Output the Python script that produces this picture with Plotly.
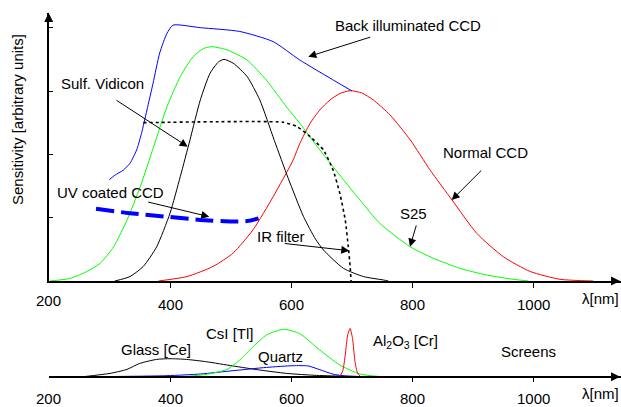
import plotly.graph_objects as go

# ---------------- data (top panel: sensitivity, arbitrary units) ----------------
back_ccd_wl = [300, 309, 323, 334, 345, 353, 362, 372, 383, 395, 405, 450, 515, 570, 614, 700]
back_ccd_s = [1.60, 1.67, 1.75, 1.86, 2.07, 2.33, 2.70, 3.12, 3.60, 3.91, 4.04, 4.00, 3.94, 3.78, 3.49, 3.00]

s25_wl = [202, 235, 263, 285, 307, 329, 351, 373, 395, 417, 438, 455, 469, 494, 527, 559, 592,
          614, 647, 686, 713, 746, 796, 834, 878, 922, 966, 991]
s25_s = [0.0, 0.04, 0.15, 0.28, 0.54, 0.96, 1.49, 2.12, 2.75, 3.23, 3.54, 3.67, 3.70, 3.65, 3.49,
         3.17, 2.75, 2.49, 2.07, 1.60, 1.28, 0.91, 0.54, 0.36, 0.20, 0.095, 0.027, 0.0]

vidicon_wl = [309, 334, 356, 378, 400, 417, 433, 450, 466, 480, 489, 504, 527, 548, 572, 595,
              620, 640, 653, 686, 719, 752, 760]
vidicon_s = [0.0, 0.07, 0.23, 0.54, 1.07, 1.65, 2.23, 2.86, 3.28, 3.46, 3.50, 3.44, 3.23, 2.86,
             2.22, 1.62, 1.02, 0.66, 0.49, 0.20, 0.07, 0.016, 0.0]

normal_ccd_wl = [381, 428, 471, 504, 537, 570, 603, 614, 631, 647, 664, 680, 697, 716, 735, 763,
                 796, 829, 865, 906, 950, 994, 1043, 1098]
normal_ccd_s = [0.0, 0.07, 0.23, 0.44, 0.81, 1.33, 1.91, 2.17, 2.49, 2.70, 2.86, 2.96, 3.005,
                2.97, 2.86, 2.62, 2.23, 1.75, 1.28, 0.75, 0.38, 0.15, 0.027, 0.0]

uv_ccd_wl = [278, 334, 395, 450, 504, 530, 546]
uv_ccd_s = [1.14, 1.07, 1.015, 0.965, 0.94, 0.95, 0.99]

ir_filter_wl = [356, 587, 609, 631, 653, 669, 680, 689, 694, 697, 698.5]
ir_filter_s = [2.50, 2.506, 2.44, 2.28, 2.07, 1.75, 1.385, 0.96, 0.54, 0.23, 0.0]

# ---------------- data (bottom panel: screens, relative units) ----------------
glass_wl = [257, 301, 329, 350, 378, 400, 427, 460, 504, 548, 592, 642, 690, 730]
glass_v = [0.0, 0.07, 0.154, 0.28, 0.365, 0.38, 0.365, 0.316, 0.226, 0.141, 0.07, 0.027, 0.01, 0.0]

quartz_wl = [279, 395, 450, 504, 559, 603, 628, 647, 669, 690, 724]
quartz_v = [0.0, 0.021, 0.057, 0.127, 0.196, 0.232, 0.226, 0.148, 0.053, 0.015, 0.0]

csi_wl = [420, 460, 494, 515, 537, 559, 587, 614, 647, 680, 713, 749]
csi_v = [0.0, 0.049, 0.154, 0.352, 0.633, 0.88, 1.0, 0.907, 0.563, 0.247, 0.057, 0.0]

al2o3_wl = [680, 685, 689, 693, 697, 701, 705, 709, 714]
al2o3_v = [0.0, 0.127, 0.464, 0.886, 1.019, 0.802, 0.316, 0.084, 0.0]

x_ticks = [400, 600, 800, 1000]
x_tick_labels = ["400", "600", "800", "1000"]
y_ticks = [1, 2, 3, 4]

FONT = "Liberation Sans, Arial, sans-serif"
FS = 15

fig = go.Figure()

def top_line(x, y, color, width=1, dash="solid", smooth=0.6):
    fig.add_trace(go.Scatter(x=x, y=y, mode="lines", xaxis="x", yaxis="y",
                             line=dict(color=color, width=width, dash=dash, shape="spline", smoothing=smooth),
                             hoverinfo="skip", showlegend=False))

def bottom_line(x, y, color, width=1, smooth=0.6):
    fig.add_trace(go.Scatter(x=x, y=y, mode="lines", xaxis="x2", yaxis="y2",
                             line=dict(color=color, width=width, shape="spline", smoothing=smooth),
                             hoverinfo="skip", showlegend=False))

top_line(s25_wl, s25_s, "#00ff00")
top_line(normal_ccd_wl, normal_ccd_s, "#ff0000")
top_line(vidicon_wl, vidicon_s, "#000000")
top_line(back_ccd_wl, back_ccd_s, "#0000ff")
top_line(ir_filter_wl, ir_filter_s, "#000000", width=1.6, dash="dot", smooth=0.5)
top_line(uv_ccd_wl, uv_ccd_s, "#0000ff", width=4, dash="18px,7px")

bottom_line(glass_wl, glass_v, "#000000")
bottom_line(quartz_wl, quartz_v, "#0000ff")
bottom_line(csi_wl, csi_v, "#00ff00")
bottom_line(al2o3_wl, al2o3_v, "#ff0000", smooth=0.5)

W, H = 621, 407
x0_px = 48.7
x_range = [200, 200 + (W - x0_px) * 200 / 121.3]
axis_y_px = 281.0
y_unit_px = 63.33
y_top_px = 13.0
b_axis_px = 376.7
b_unit_px = 47.4
b_dom_top = 0.25

annotations = []

# callout labels (text) and arrows, top panel
labels = [
    ("Back illuminated CCD", 791.6, 4.042),
    ("Normal CCD", 920.2, 2.032),
    ("S25", 800.7, 1.069),
    ("IR filter", 583.0, 0.70),
    ("Sulf. Vidicon", 289.5, 3.111),
    ("UV coated CCD", 302.7, 1.394),
]
for t, lx, ly in labels:
    annotations.append(dict(text=t, x=lx, y=ly, xref="x", yref="y", showarrow=False,
                            xanchor="center", yanchor="middle", font=dict(family=FONT, size=FS, color="black")))

arrows = [  # tail (x, y) -> tip (x, y)
    (732.6, 3.858, 628.0, 3.542),
    (915.6, 1.768, 864.5, 1.279),
    (806.8, 0.90, 795.7, 0.542),
    (586.8, 0.595, 695.6, 0.478),
    (309.3, 2.869, 429.2, 2.121),
    (361.6, 1.252, 464.8, 1.015),
]
for ax_, ay_, tx, ty in arrows:
    annotations.append(dict(text="", x=tx, y=ty, ax=ax_, ay=ay_, xref="x", yref="y", axref="x", ayref="y",
                            showarrow=True, arrowhead=2, arrowsize=1.6, arrowwidth=1, arrowcolor="black",
                            standoff=0, startstandoff=0))

# axis arrowheads
y_top_val = (axis_y_px - y_top_px) / y_unit_px
annotations.append(dict(text="", x=200, y=y_top_val, xref="x", yref="y", ax=0, ay=10,
                        showarrow=True, arrowhead=2, arrowsize=1.2, arrowwidth=1.5, arrowcolor="black", standoff=0))
annotations.append(dict(text="", x=x_range[1] - 1.5, y=0, xref="x", yref="y", ax=-10, ay=0,
                        showarrow=True, arrowhead=2, arrowsize=1.2, arrowwidth=1.5, arrowcolor="black", standoff=0))
annotations.append(dict(text="", x=x_range[1] - 1.5, y=0, xref="x2", yref="y2", ax=-10, ay=0,
                        showarrow=True, arrowhead=2, arrowsize=1.2, arrowwidth=1.5, arrowcolor="black", standoff=0))

# tick labels
def paper_y(px):
    return (H - px) / H

annotations.append(dict(text="200", x=200, y=paper_y(300), xref="x", yref="paper", showarrow=False,
                        xanchor="center", yanchor="middle", font=dict(family=FONT, size=FS, color="black")))
annotations.append(dict(text="200", x=200, y=paper_y(398.8), xref="x", yref="paper", showarrow=False,
                        xanchor="center", yanchor="middle", font=dict(family=FONT, size=FS, color="black")))
for v, lab in zip(x_ticks, x_tick_labels):
    annotations.append(dict(text=lab, x=v, y=paper_y(304.5), xref="x", yref="paper", showarrow=False,
                            xanchor="center", yanchor="middle", font=dict(family=FONT, size=FS, color="black")))
    annotations.append(dict(text=lab, x=v, y=paper_y(398.5), xref="x", yref="paper", showarrow=False,
                            xanchor="center", yanchor="middle", font=dict(family=FONT, size=FS, color="black")))
annotations.append(dict(text="λ[nm]", x=1.0, y=paper_y(298.3), xref="paper", yref="paper", showarrow=False,
                        xanchor="right", yanchor="middle", font=dict(family=FONT, size=FS, color="black")))
annotations.append(dict(text="λ[nm]", x=1.0, y=paper_y(393.3), xref="paper", yref="paper", showarrow=False,
                        xanchor="right", yanchor="middle", font=dict(family=FONT, size=FS, color="black")))

# y-axis title
annotations.append(dict(text="Sensitivity [arbitrary units]", x=17 / W, y=paper_y(120), xref="paper", yref="paper",
                        showarrow=False, textangle=-90, xanchor="center", yanchor="middle",
                        font=dict(family=FONT, size=FS, color="black")))

# bottom panel labels
blabels = [
    ("Glass [Ce]", 376.9, 0.584),
    ("CsI [Tl]", 499.0, 0.901),
    ("Quartz", 583.0, 0.422),
    ("Al<sub>2</sub>O<sub>3</sub> [Cr]", 789.1, 0.74),
    ("Screens", 990.4, 0.542),
]
for t, lx, ly in blabels:
    annotations.append(dict(text=t, x=lx, y=ly, xref="x2", yref="y2", showarrow=False,
                            xanchor="center", yanchor="middle", font=dict(family=FONT, size=FS, color="black")))

b_vmin = -(H - b_axis_px) / b_unit_px
b_vmax = b_vmin + b_dom_top * H / b_unit_px

fig.update_layout(
    width=W, height=H, margin=dict(l=0, r=0, t=0, b=0),
    paper_bgcolor="white", plot_bgcolor="rgba(0,0,0,0)",
    font=dict(family=FONT, size=FS, color="black"),
    xaxis=dict(domain=[x0_px / W, 1], range=x_range, anchor="y", showline=True, linecolor="black",
               linewidth=1.5, ticks="outside", ticklen=5, tickwidth=1, tickcolor="black",
               tickvals=x_ticks, showticklabels=False, showgrid=False, zeroline=False),
    yaxis=dict(domain=[(H - axis_y_px) / H, (H - y_top_px) / H], range=[0, y_top_val], anchor="x",
               showline=True, linecolor="black", linewidth=1.5, ticks="inside", ticklen=5, tickwidth=1,
               tickcolor="black", tickvals=y_ticks, showticklabels=False, showgrid=False, zeroline=False),
    xaxis2=dict(domain=[x0_px / W, 1], range=x_range, anchor="free", position=(H - b_axis_px) / H,
                showline=True, linecolor="black", linewidth=1.5, ticks="outside", ticklen=5, tickwidth=1,
                tickcolor="black", tickvals=x_ticks, showticklabels=False, showgrid=False, zeroline=False),
    yaxis2=dict(domain=[0, b_dom_top], range=[b_vmin, b_vmax], anchor="x2", visible=False),
    annotations=annotations,
)

fig.write_html("out.html")
